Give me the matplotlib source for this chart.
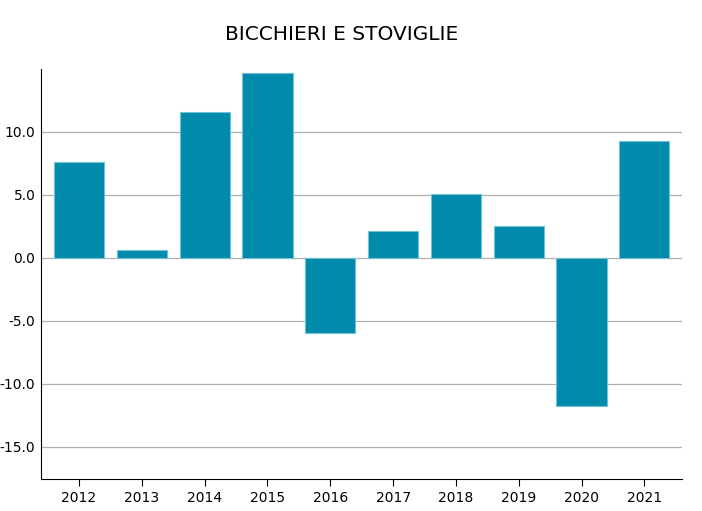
import matplotlib.pyplot as plt
import numpy as np

# Data
years = ['2012', '2013', '2014', '2015', '2016', '2017', '2018', '2019', '2020', '2021']
values = [7.62, 0.63, 11.59, 14.68, -5.95, 2.14, 5.08, 2.54, -11.75, 9.29]
yticks = [-15.0, -10.0, -5.0, 0.0, 5.0, 10.0]

fig = plt.figure(figsize=(7.02, 5.11), dpi=100)
ax = fig.add_axes([41 / 702, 1 - 479 / 511, (682 - 41) / 702, (479 - 69) / 511])

x = np.arange(len(years))
ax.bar(x, values, width=0.8, color='#008aab', edgecolor='#6fc3d3', linewidth=0.8, zorder=3)

ax.set_xlim(-0.605, 9.6)
ax.set_ylim(-17.54, 15.0)
ax.set_xticks(x)
ax.set_xticklabels(years)
ax.set_yticks(yticks)
ax.set_yticklabels([f'{v:.1f}' for v in yticks])
ax.yaxis.grid(True, color='#b0b0b0', linewidth=0.9, zorder=0)
ax.tick_params(axis='y', length=0, labelsize=10, pad=4)
ax.tick_params(axis='x', length=5, labelsize=10)
ax.spines['top'].set_visible(False)
ax.spines['right'].set_visible(False)

fig.text(342 / 702, 1 - 34 / 511, 'BICCHIERI E STOVIGLIE', ha='center', va='center', fontsize=14.5)

fig.savefig('out.png', dpi=100)
